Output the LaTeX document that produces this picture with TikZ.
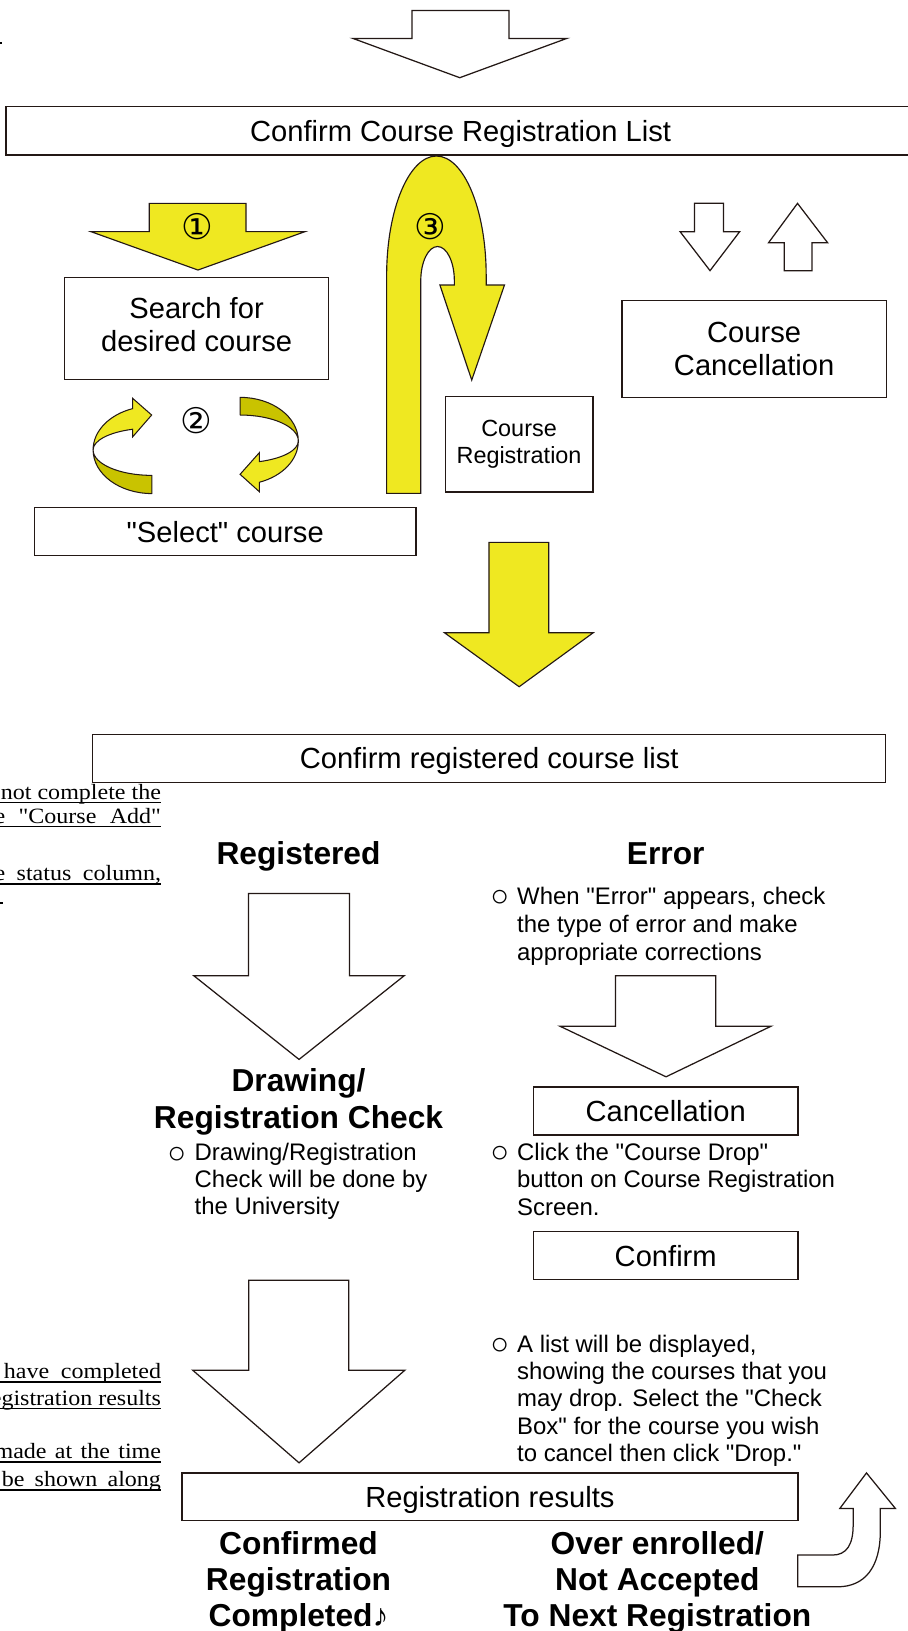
\documentclass[tikz,border=0pt]{standalone}
\usepackage{fontspec}
\newfontfamily\mainsans{Liberation Sans}
\newfontfamily\dvfont{DejaVu Sans}
\newfontfamily\serfont[FakeStretch=1.1]{Liberation Serif}
\definecolor{lnc}{RGB}{35,24,21}
\definecolor{yel}{RGB}{239,232,33}
\definecolor{yeld}{RGB}{201,195,0}
\begin{document}
\mainsans
\begin{tikzpicture}[x=1pt,y=-1pt,
  box/.style={draw=lnc, line width=1.3pt, fill=white, inner sep=0pt, align=center, font=\fontsize{28}{32}\selectfont},
  one/.style={text height=25.2pt, text depth=5pt},
  warr/.style={draw=lnc, line width=1.2pt, fill=white, line join=miter},
  yarr/.style={draw=lnc, line width=1.1pt, fill=yel, line join=miter},
  ydark/.style={draw=lnc, line width=1pt, fill=yeld, line join=round},
  ylight/.style={draw=lnc, line width=1pt, fill=yel, line join=miter},
  note/.style={anchor=base west, inner sep=0pt, align=left, font=\fontsize{23}{26.5}\selectfont},
  bul/.style={anchor=base, inner sep=0pt, font=\fontsize{30}{30}\selectfont},
  headt/.style={anchor=base, inner sep=0pt, align=center, font=\bfseries\fontsize{30.5}{36}\selectfont},
  circ/.style={inner sep=0pt, font=\dvfont\fontsize{34}{34}\selectfont},
  frag/.style={anchor=base east, inner sep=0pt, font=\serfont\fontsize{21}{26}\selectfont},
  uline/.style={draw=black, line width=1.7pt},
]
\useasboundingbox (0,0) rectangle (872,1568);

% ---- clipped fragments at left edge
\draw[uline, line width=1.4pt] (-1,41.5) -- (2,41.5);
\node[frag] (f1) at (155,768.5) {not complete the};
\draw[uline] (0,771.5) -- (155,771.5);
\node[frag] (f2) at (155,791.5) {\makebox[160pt][s]{e "Course Add"}};
\draw[uline] (0,794.5) -- (155,794.5);
\node[frag] (f3) at (155,846.5) {\makebox[160pt][s]{e status column,}};
\draw[uline] (0,849.5) -- (155,849.5);
\draw[uline] (-1,868) -- (3,868);
\node[frag] (f4) at (155,1325.5) {\makebox[151pt][s]{have completed}};
\draw[uline] (0,1328.5) -- (155,1328.5);
\node[frag] (f5) at (155,1351) {egistration results};
\draw[uline] (0,1354) -- (155,1354);
\node[frag] (f6) at (155,1402.5) {\makebox[160pt][s]{made at the time}};
\draw[uline] (0,1405.5) -- (155,1405.5);
\node[frag] (f7) at (155,1429.5) {\makebox[153pt][s]{be shown along}};
\draw[uline] (0,1432.5) -- (155,1432.5);

% ---- top white arrow
\draw[warr] (396,10.2) -- (489.4,10.2) -- (489.4,36.9) -- (545,36.9) -- (442,74.7) -- (339.2,36.9) -- (396,36.9) -- cycle;

% ---- U-turn arrow 3
\draw[yarr] (371.7,474.3) -- (371.7,265)
  arc[start angle=180, end angle=360, x radius=47.85, y radius=115]
  -- (467.4,274) -- (485,274) -- (453.5,365.4) -- (422.9,274) -- (436.8,274) -- (436.8,270)
  arc[start angle=0, end angle=-180, x radius=16.15, y radius=33]
  -- (404.5,474.3) -- cycle;
\node[circ] (c3) at (414,218) {③};

\node[box, one, minimum width=874.4pt, minimum height=46.4pt] (crl) at (442.8,125.8) {Confirm Course Registration List};

% ---- yellow arrow 1
\draw[yarr] (143.5,195.5) -- (236.5,195.5) -- (236.5,222.7) -- (293.2,222.7) -- (190.3,259.6) -- (87.4,222.7) -- (143.5,222.7) -- cycle;
\node[circ] (c1) at (190,218) {①};

\node[box, minimum width=254pt, minimum height=98pt] (search) at (189,316) {};
\node[inner sep=0pt, align=center, font=\fontsize{28}{32}\selectfont] (searcht) at (189,312) {Search for\\desired course};

% ---- circular arrows 2
\draw[ydark] (89.5,432.5) arc[start angle=180, end angle=90, x radius=56.5, y radius=42]
  -- (146,457) arc[start angle=90, end angle=180, x radius=56.5, y radius=24.5] -- cycle;
\draw[ylight] (127.6,392.8) arc[start angle=-109, end angle=-180, x radius=56.5, y radius=42]
  arc[start angle=-180, end angle=-109, x radius=56.5, y radius=21]
  -- (127.6,419.9) -- (145.8,399) -- (127.6,383) -- cycle;
\draw[ydark] (230.8,382) arc[start angle=-90, end angle=0, x radius=56, y radius=42]
  arc[start angle=0, end angle=-90, x radius=56, y radius=25] -- cycle;
\draw[ylight] (286.8,424) arc[start angle=0, end angle=70.7, x radius=56, y radius=42]
  -- (249.3,472.7) -- (230.8,456) -- (249.3,435.2) -- (249.3,443.8)
  arc[start angle=70.7, end angle=0, x radius=56, y radius=21] -- cycle;
\node[circ] (c2) at (189,404) {②};

% ---- small white arrows
\draw[warr] (667.7,195.5) -- (695.5,195.5) -- (695.5,222.7) -- (711.1,222.7) -- (682.6,260.2) -- (653.8,222.7) -- (667.7,222.7) -- cycle;
\draw[warr] (766.7,195.5) -- (795.6,233.3) -- (780.6,233.3) -- (780.6,260.2) -- (753.9,260.2) -- (753.9,233.3) -- (738.9,233.3) -- cycle;

\node[box, minimum width=254pt, minimum height=93pt] (cancel) at (725,335.5) {Course\\Cancellation};
\node[box, minimum width=142pt, minimum height=92pt, font=\fontsize{22.5}{26}\selectfont] (creg) at (499,427) {Course\\Registration};
\node[box, one, minimum width=367pt, minimum height=46pt] (select) at (216.5,511) {"Select" course};

% ---- big yellow arrow
\draw[yarr] (470.1,521.4) -- (527.5,521.4) -- (527.5,608.3) -- (570.3,608.3) -- (499.1,660.2) -- (427.3,608.3) -- (470.1,608.3) -- cycle;

\node[box, one, minimum width=762.5pt, minimum height=46pt] (crcl) at (470.3,729) {Confirm registered course list};

% ---- Registered column
\node[headt] (regd) at (287,831) {Registered};
\draw[warr] (239,858.9) -- (335.9,858.9) -- (335.9,938) -- (388.6,938) -- (287.5,1018.5) -- (186.3,938) -- (239,938) -- cycle;
\node[headt] (drc) at (287,1085) {Drawing/\\Registration Check};
\node[bul] (b2) at (170,1118.5) {○};
\node[note, font=\fontsize{23}{26}\selectfont] (n2) at (187,1168) {Drawing/Registration\\Check will be done by\\the University};
\draw[warr] (239.1,1230.7) -- (335.3,1230.7) -- (335.3,1317.2) -- (389.3,1317.2) -- (287.5,1406.3) -- (185.2,1317.2) -- (239.1,1317.2) -- cycle;

% ---- Error column
\node[headt] (err) at (640,831) {Error};
\node[bul] (b1) at (480.5,871.7) {○};
\node[note, font=\fontsize{23}{27}\selectfont] (n1) at (497,923.2) {When "Error" appears, check\\the type of error and make\\appropriate corrections};
\draw[warr] (591.8,938) -- (688.2,938) -- (688.2,986.5) -- (741.4,986.5) -- (640.3,1035.2) -- (538.2,986.5) -- (591.8,986.5) -- cycle;
\node[box, one, minimum width=254pt, minimum height=46pt] (canc2) at (640,1068) {Cancellation};
\node[bul] (b3) at (480.5,1118) {○};
\node[note] (n3) at (497,1168.5) {Click the "Course Drop"\\button on Course Registration\\Screen.};
\node[box, one, minimum width=254pt, minimum height=46pt] (conf) at (640,1207) {Confirm};
\node[bul] (b4) at (480.5,1302.5) {○};
\node[note, font=\fontsize{23}{26.3}\selectfont] (n4) at (497,1405.2) {A list will be displayed,\\showing the courses that you\\may drop. Select the "Check\\Box" for the course you wish\\to cancel then click "Drop."};

% ---- results
\node[box, one, minimum width=592pt, minimum height=46pt] (rres) at (471,1439) {Registration results};
\node[headt, font=\bfseries\fontsize{30.5}{35}\selectfont] (cfm) at (287,1564) {Confirmed\\Registration\\Completed♪};
\node[headt, font=\bfseries\fontsize{30.5}{35}\selectfont] (over) at (632,1564) {Over enrolled/\\Not Accepted\\To Next Registration};

% ---- return arrow
\draw[warr] (767,1495) -- (800,1495) .. controls (814,1495) and (820.2,1485) .. (820.2,1466) -- (820.2,1450.2) -- (807.4,1450.2) -- (833,1416) -- (860.8,1450.2) -- (846.3,1450.2) -- (846.3,1472) .. controls (846.3,1506) and (832,1525.5) .. (805,1525.5) -- (767,1525.5) -- cycle;
\end{tikzpicture}
\end{document}
